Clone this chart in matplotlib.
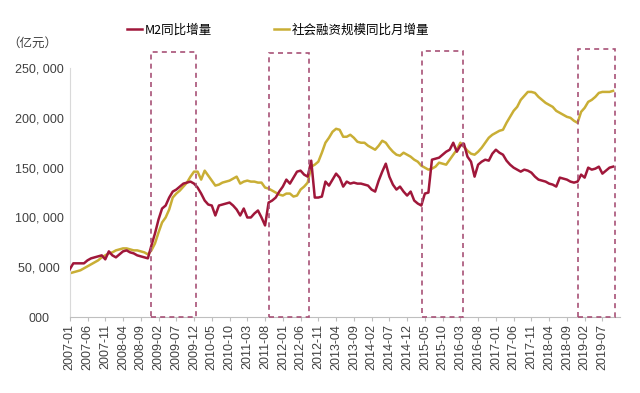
import numpy as np
import pandas as pd
import matplotlib
matplotlib.use("Agg")
import matplotlib.pyplot as plt
from matplotlib.patches import Rectangle

plt.rcParams['font.family'] = ['Noto Sans CJK SC', 'DejaVu Sans']

# monthly data, 2007-01 .. 2019-10, unit: 1e3 亿元 (scaled below)
months = pd.date_range('2007-01-01', '2019-10-01', freq='MS')

m2 = [48, 54, 54, 54, 54, 57, 59, 60, 61, 62, 58, 66,
      62, 60, 63, 66, 67, 65, 64, 62, 61, 60, 59, 72,
      84, 98, 109, 112, 120, 126, 128, 131, 134, 135, 136, 134,
      130, 124, 117, 113, 112, 102, 112, 113, 114, 115, 112, 108,
      102, 109, 100, 100, 104, 107, 100, 92, 115, 117, 120, 126,
      131, 138, 134, 140, 146, 147, 143, 141, 157, 120, 120, 121,
      136, 132, 138, 144, 140, 131, 136, 134, 135, 134, 134, 133,
      132, 128, 126, 137, 146, 154, 141, 133, 128, 131, 126, 122,
      126, 117, 114, 112, 124, 125, 158, 159, 160, 163, 166, 168,
      175, 166, 172, 174, 161, 156, 141, 153, 156, 158, 157, 164,
      168, 165, 163, 157, 153, 150, 148, 146, 148, 147, 145, 141,
      138, 137, 136, 134, 133, 131, 140, 139, 138, 136, 135, 136,
      143, 140, 150, 148, 149, 151, 144, 147, 150, 151]

tsf = [44, 45, 46, 47, 49, 51, 53, 55, 57, 60, 62, 64,
       65, 67, 68, 69, 69, 68, 67, 67, 66, 65, 63, 67,
       74, 85, 95, 100, 108, 120, 124, 127, 131, 135, 141, 146,
       146, 138, 147, 142, 137, 132, 133, 135, 136, 137, 139, 141,
       134, 136, 137, 136, 136, 135, 135, 130, 129, 127, 125, 123,
       122, 124, 124, 121, 122, 128, 131, 135, 151, 153, 156, 165,
       175, 180, 186, 189, 188, 181, 181, 183, 180, 176, 175, 175,
       172, 170, 168, 172, 177, 175, 170, 166, 163, 162, 165, 163,
       161, 158, 156, 152, 150, 148, 149, 151, 155, 154, 153, 158,
       163, 168, 175, 171, 167, 164, 163, 166, 170, 175, 180, 183,
       185, 187, 188, 195, 201, 207, 211, 218, 222, 226, 226, 225,
       221, 218, 215, 213, 211, 207, 205, 203, 201, 200, 197, 195,
       206, 210, 216, 218, 221, 225, 226, 226, 226, 227]

# highlighted periods (month index from 2007-01) and box tops
boxes = [(22.8, 35.5, 266000), (56.1, 67.4, 265000),
         (99.2, 110.8, 267000), (143.0, 153.6, 269000)]

yticks = [0, 50000, 100000, 150000, 200000, 250000]
ytick_labels = ['000', '50, 000', '100, 000', '150, 000', '200, 000', '250, 000']

x = np.arange(len(months))
m2_vals = np.array(m2) * 1000
tsf_vals = np.array(tsf) * 1000

fig = plt.figure(figsize=(6.4, 3.93), dpi=100)
ax = fig.add_axes([0.109, 0.193, 0.86, 0.634])

ax.plot(x, m2_vals, color='#A0173A', lw=1.8, label='M2同比增量', zorder=3)
ax.plot(x, tsf_vals, color='#C9AE35', lw=1.8, label='社会融资规模同比月增量', zorder=2)

for x0, x1, top in boxes:
    ax.add_patch(Rectangle((x0, 0), x1 - x0, top, fill=False,
                           edgecolor='#A85277', lw=1.2, ls=(0, (3, 2.5)),
                           clip_on=False, zorder=4))

ax.set_xlim(0, 155)
ax.set_ylim(0, 250000)

ticks = x[::5]
ax.set_xticks(ticks)
ax.set_xticklabels([months[i].strftime('%Y-%m') for i in ticks], rotation=90,
                   family='Liberation Sans', fontsize=9, color='#404040')
ax.set_yticks(yticks)
ax.set_yticklabels(ytick_labels, family='Liberation Sans', fontsize=9, color='#404040')
ax.tick_params(axis='y', length=0, pad=22)
ax.tick_params(axis='x', length=3, color='#BFBFBF', pad=2)
for lab in ax.get_yticklabels():
    lab.set_horizontalalignment('center')

for s in ['top', 'right']:
    ax.spines[s].set_visible(False)
ax.spines['left'].set_color('#D9D9D9')
ax.spines['bottom'].set_color('#BFBFBF')

fig.text(0.05, 0.89, '（亿元）', fontsize=9, color='#404040', ha='center', va='center')

fig.legend(loc='center', bbox_to_anchor=(0.435, 0.924), ncol=2, frameon=False,
           fontsize=9, handlelength=1.2, handletextpad=0.2, columnspacing=5)

plt.savefig('out.png', dpi=100)
